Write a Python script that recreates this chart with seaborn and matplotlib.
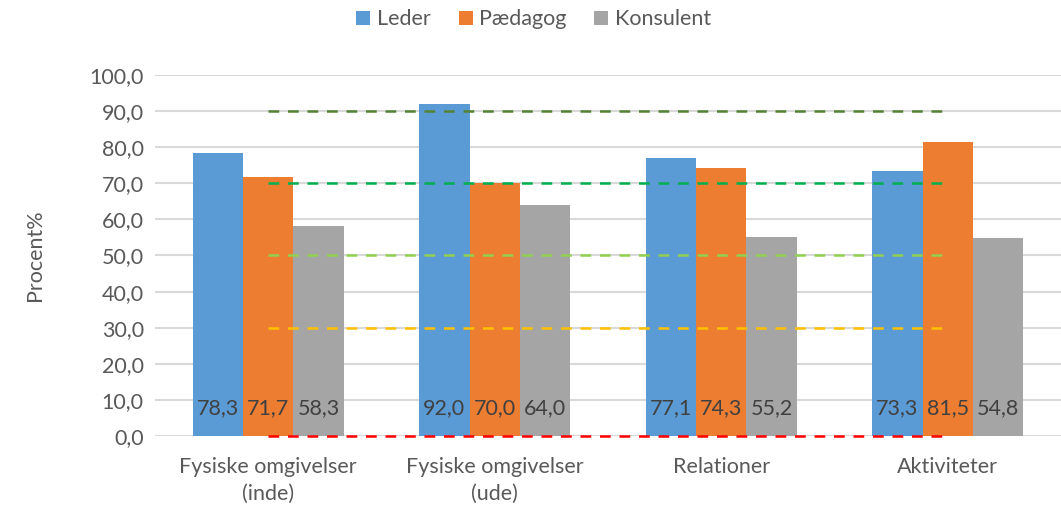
import matplotlib
matplotlib.use("Agg")
import matplotlib.pyplot as plt
import seaborn as sns
import pandas as pd
from matplotlib.patches import Patch

categories = ["Fysiske omgivelser\n(inde)", "Fysiske omgivelser\n(ude)", "Relationer", "Aktiviteter"]
series = ["Leder", "Pædagog", "Konsulent"]
leder = [78.3, 92.0, 77.1, 73.3]
paedagog = [71.7, 70.0, 74.3, 81.5]
konsulent = [58.3, 64.0, 55.2, 54.8]
ref_levels = [90, 70, 50, 30, 0]
ref_colors = ["#548235", "#00B050", "#92D050", "#FFC000", "#FF0000"]
yticks = [0, 10, 20, 30, 40, 50, 60, 70, 80, 90, 100]
bar_colors = ["#5B9BD5", "#ED7D31", "#A5A5A5"]

rows = []
for s, vals in zip(series, [leder, paedagog, konsulent]):
    for c, v in zip(categories, vals):
        rows.append({"Kategori": c, "Gruppe": s, "Værdi": v})
df = pd.DataFrame(rows)

sns.set_style("white")
plt.rcParams["font.family"] = ["Lato", "DejaVu Sans"]

FS = 15.5

fig = plt.figure(figsize=(10.61, 5.09), dpi=100)
ax = fig.add_axes([0.146, 0.1434, 0.854, 0.7093])

sns.barplot(data=df, x="Kategori", y="Værdi", hue="Gruppe", order=categories,
            hue_order=series, palette=bar_colors, width=0.667, gap=0,
            saturation=1, linewidth=0, errorbar=None, legend=False, ax=ax, zorder=2)

# reference lines spanning from first to last category
xs = list(range(len(categories)))
for lvl, col in zip(ref_levels, ref_colors):
    ax.plot([xs[0], xs[-1]], [lvl, lvl], color=col, linewidth=1.8,
            dashes=(4.3, 3.5), zorder=3, clip_on=False, dash_capstyle="butt")

# value labels near base of bars
for cont, vals in zip(ax.containers, [leder, paedagog, konsulent]):
    for p, v in zip(cont.patches, vals):
        ax.text(p.get_x() + p.get_width() / 2, 7.8, f"{v:.1f}".replace(".", ","),
                ha="center", va="center", fontsize=FS, color="#404040", zorder=4)

ax.set_ylim(0, 100)
ax.set_xlim(-0.5, 3.5)
ax.set_yticks(yticks)
ax.set_yticklabels([f"{t:.1f}".replace(".", ",") for t in yticks], fontsize=FS, color="#595959")
ax.set_xticks(xs)
ax.set_xticklabels(categories, fontsize=FS, color="#595959", linespacing=1.45)
ax.tick_params(axis="both", length=0, pad=8)
ax.tick_params(axis="x", pad=15)
ax.grid(axis="y", color="#D9D9D9", linewidth=1.5, zorder=0)
ax.set_axisbelow(True)
for sp in ax.spines.values():
    sp.set_visible(False)
ax.set_xlabel("")
ax.set_ylabel("Procent%", fontsize=FS, color="#595959", labelpad=32)

handles = [Patch(facecolor=c, edgecolor="none") for c in bar_colors]
fig.legend(handles, series, loc="center", bbox_to_anchor=(0.503, 0.962), ncol=3,
           frameon=False, fontsize=FS, labelcolor="#595959", handlelength=0.65,
           handleheight=0.65, handletextpad=0.3, columnspacing=1.3)

fig.savefig("out.png", dpi=100)
